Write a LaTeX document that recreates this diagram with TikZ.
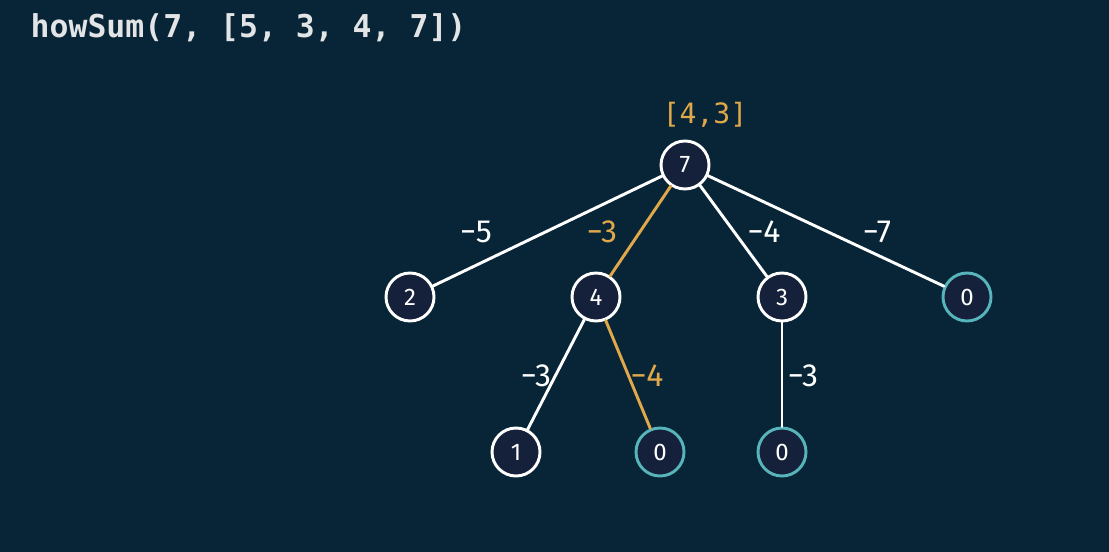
\documentclass[tikz,border=0pt]{standalone}
\usepackage{fontspec}
\setmainfont{Fira Sans}
\setmonofont{DejaVu Sans Mono}
\definecolor{bgnavy}{HTML}{072536}
\definecolor{nodenavy}{HTML}{15213A}
\definecolor{pathgold}{HTML}{E0A84A}
\definecolor{baseteal}{HTML}{56B4BA}
\definecolor{titlegray}{HTML}{E2E4E6}
\begin{document}
\begin{tikzpicture}[x=0.75pt,y=-0.75pt,line cap=round,line join=round,
	vert/.style={circle,draw=white,line width=2.2pt,fill=nodenavy,minimum size=36pt,inner sep=0pt,text=white,font=\fontsize{18}{18}\selectfont},
	goal/.style={vert,draw=baseteal},
	edge/.style={draw=white,line width=2.2pt},
	hit/.style={edge,draw=pathgold},
	lbl/.style={text=white,font=\fontsize{24}{24}\selectfont},
	hitlbl/.style={lbl,text=pathgold}]
	\fill[bgnavy] (0,0) rectangle (1109,552);
	\useasboundingbox (0,0) rectangle (1109,552);
	\node[anchor=west,text=titlegray,font=\ttfamily\bfseries\fontsize{23.6}{23.6}\selectfont] (title) at (26,28) {howSum(7, [5, 3, 4, 7])};
	% the tree
	\node[vert] (n7) at (685,165) {7};
	\node[vert] (n2) at (410,297) {2};
	\node[vert] (n4) at (596,297) {4};
	\node[vert] (n3) at (782,297) {3};
	\node[goal] (z1) at (967,297) {0};
	\node[vert] (n1) at (516,452) {1};
	\node[goal] (z2) at (660,452) {0};
	\node[goal] (z3) at (782,452) {0};
	\node[text=pathgold,font=\ttfamily\fontsize{21}{21}\selectfont] (res) at (705,115) {[4,3]};
	\draw[edge] (n7) -- (n2);
	\draw[hit] (n7) -- (n4);
	\draw[edge] (n7) -- (n3);
	\draw[edge] (n7) -- (z1);
	\draw[edge] (n4) -- (n1);
	\draw[hit] (n4) -- (z2);
	\draw[edge] (n3) -- (z3);
	% edge labels
	\node[lbl] (l72) at (476,232) {−5};
	\node[hitlbl] (l74) at (602,232) {−3};
	\node[lbl] (l73) at (764,232) {−4};
	\node[lbl] (l70) at (877,232) {−7};
	\node[lbl] (l41) at (536,376) {−3};
	\node[hitlbl] (l40) at (647,376) {−4};
	\node[lbl] (l30) at (803,376) {−3};
\end{tikzpicture}
\end{document}
